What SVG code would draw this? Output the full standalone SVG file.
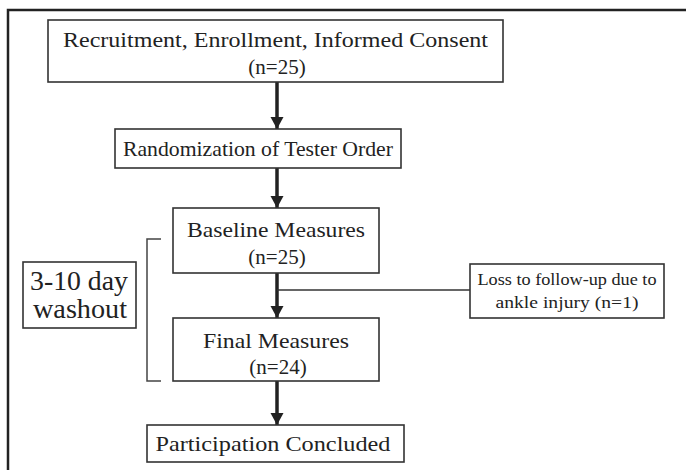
<svg xmlns="http://www.w3.org/2000/svg" width="686" height="470" viewBox="0 0 686 470">
<style>
.box{fill:#fff;stroke:#333;stroke-width:1.6}
.t{font-family:"Liberation Serif","Times New Roman",serif;fill:#222;text-anchor:middle}
.arr{stroke:#222;stroke-width:3.5;fill:none}
.thin{stroke:#333;stroke-width:1.5;fill:none}
.frame{stroke:#222;stroke-width:2.5;fill:none}
</style>
<defs>
<marker id="ah" markerUnits="userSpaceOnUse" markerWidth="13" markerHeight="14" refX="12" refY="7" orient="auto" viewBox="0 0 13 14">
<path d="M0,0.5 L12,7 L0,13.5 z" fill="#222"/>
</marker>
</defs>
<rect width="686" height="470" fill="#fff"/>
<path class="frame" d="M8,470 L8,10 L686,10"/>
<g id="connectors">
<line class="arr" x1="277" y1="82" x2="277" y2="129" marker-end="url(#ah)"/>
<line class="arr" x1="277" y1="168" x2="277" y2="208" marker-end="url(#ah)"/>
<line class="arr" x1="277" y1="273" x2="277" y2="318" marker-end="url(#ah)"/>
<line class="arr" x1="277" y1="381" x2="277" y2="425" marker-end="url(#ah)"/>
<line class="thin" x1="277" y1="290" x2="470" y2="290"/>
</g>
<g id="bracket">
<path d="M161,239 L147,239 L147,381 L161,381" stroke="#444" stroke-width="1.5" fill="none"/>
</g>
<g id="recruitment">
<rect class="box" x="48" y="20" width="455" height="62"/>
<text class="t" x="275.5" y="47" font-size="22" textLength="425" lengthAdjust="spacingAndGlyphs">Recruitment, Enrollment, Informed Consent</text>
<text class="t" x="277" y="74" font-size="21">(n=25)</text>
</g>
<g id="randomization">
<rect class="box" x="115" y="129" width="286" height="39"/>
<text class="t" x="258" y="156" font-size="21" textLength="270" lengthAdjust="spacingAndGlyphs">Randomization  of Tester Order</text>
</g>
<g id="baseline">
<rect class="box" x="173" y="208" width="206" height="65"/>
<text class="t" x="276" y="237" font-size="21" textLength="178" lengthAdjust="spacingAndGlyphs">Baseline Measures</text>
<text class="t" x="277" y="264" font-size="21">(n=25)</text>
</g>
<g id="loss">
<rect class="box" x="470" y="264" width="194" height="54"/>
<text class="t" x="567" y="285" font-size="16.5" textLength="179" lengthAdjust="spacingAndGlyphs">Loss to follow-up due to</text>
<text class="t" x="567" y="308" font-size="16.5" textLength="143" lengthAdjust="spacingAndGlyphs">ankle injury (n=1)</text>
</g>
<g id="washout">
<rect class="box" x="23" y="262" width="113" height="66"/>
<text class="t" x="79" y="290" font-size="27" textLength="98" lengthAdjust="spacingAndGlyphs">3-10 day</text>
<text class="t" x="80" y="318" font-size="27" textLength="94" lengthAdjust="spacingAndGlyphs">washout</text>
</g>
<g id="final">
<rect class="box" x="173" y="318" width="206" height="63"/>
<text class="t" x="276" y="348" font-size="21" textLength="146" lengthAdjust="spacingAndGlyphs">Final Measures</text>
<text class="t" x="278" y="374" font-size="21">(n=24)</text>
</g>
<g id="concluded">
<rect class="box" x="147" y="425" width="257" height="37"/>
<text class="t" x="273" y="451" font-size="21" textLength="235" lengthAdjust="spacingAndGlyphs">Participation Concluded</text>
</g>
</svg>
